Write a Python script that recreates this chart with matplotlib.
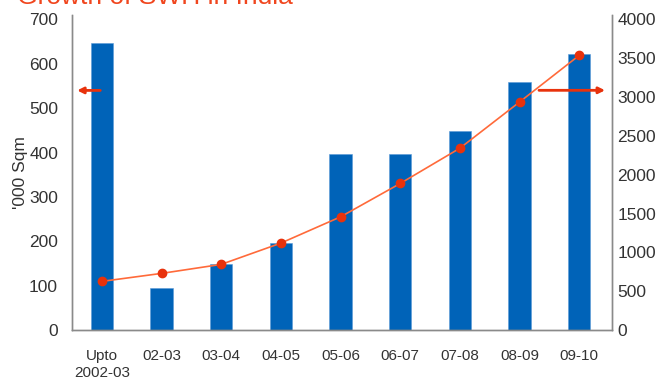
import matplotlib.pyplot as plt
import numpy as np

plt.rcParams['font.family'] = ['Liberation Sans', 'DejaVu Sans']

years = ['Upto\n2002-03', '02-03', '03-04', '04-05', '05-06', '06-07', '07-08', '08-09', '09-10']
annual = [648, 95, 148, 196, 397, 397, 448, 560, 621]
cumulative = [626, 729, 845, 1119, 1457, 1887, 2341, 2936, 3537]

BAR = '#0063b8'
LINE = '#ff6a3a'
DOT = '#e8320c'
TXT = '#333333'
SPINE = '#8a8a8a'

fig = plt.figure(figsize=(6.59, 3.90), dpi=100)
ax = fig.add_axes([72 / 659, 60 / 390, 540 / 659, 315 / 390])
ax2 = ax.twinx()

x = np.arange(len(years))
ax.bar(x, annual, width=0.37, color=BAR, edgecolor='#5a9ad6', linewidth=0.4,
       label='Annual Collector Area Addition', zorder=2)
ax2.plot(x, cumulative, color=LINE, lw=1.2, marker='o', markersize=6,
         markerfacecolor=DOT, markeredgecolor=DOT, label='Cumulative', zorder=3)

ax.set_xlim(-0.5, 8.55)
ax.set_ylim(0, 710)
ax2.set_ylim(0, 4057)
ax.set_yticks(range(0, 701, 100))
ax2.set_yticks(range(0, 4001, 500))
ax.set_xticks(x)
ax.set_xticklabels(years, fontsize=11, color=TXT)
ax.tick_params(axis='x', length=0, pad=14)
ax.tick_params(axis='y', length=0, pad=10, labelsize=12.5, labelcolor=TXT)
ax2.tick_params(axis='y', length=0, pad=4, labelsize=12.5, labelcolor=TXT)
ax.set_ylabel("'000 Sqm", fontsize=12.5, color=TXT, labelpad=1)

for a in (ax, ax2):
    a.spines['top'].set_visible(False)
    for s in ('left', 'right', 'bottom'):
        a.spines[s].set_color(SPINE)
        a.spines[s].set_linewidth(1.0)
ax2.set_zorder(ax.get_zorder() + 1)
ax2.patch.set_visible(False)

# arrows pointing to each axis
ax.annotate('', xy=(-0.46, 540), xytext=(0.02, 540),
            arrowprops=dict(arrowstyle='-|>', color='#e8320c', lw=2, mutation_scale=9))
ax2.annotate('', xy=(8.48, 3087), xytext=(7.28, 3087),
             arrowprops=dict(arrowstyle='-|>', color='#e8320c', lw=2, mutation_scale=9))

fig.text(17 / 659, 1 - 4 / 390, 'Growth of SWH in India', fontsize=19,
         color='#f0461e', va='baseline', ha='left')

h1, l1 = ax.get_legend_handles_labels()
h2, l2 = ax2.get_legend_handles_labels()
fig.legend(h1 + h2, l1 + l2, loc='upper left', bbox_to_anchor=(95 / 659, 1 - 380 / 390),
           ncol=2, frameon=False, fontsize=12, columnspacing=7, handlelength=1,
           handletextpad=0.8, labelcolor=TXT)

fig.savefig('out.png', dpi=100)
